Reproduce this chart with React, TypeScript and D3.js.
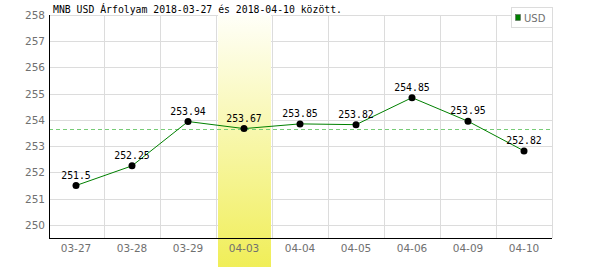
import React from "react";
import * as d3 from "d3";

const categories = ["03-27", "03-28", "03-29", "04-03", "04-04", "04-05", "04-06", "04-09", "04-10"];
const values = [251.5, 252.25, 253.94, 253.67, 253.85, 253.82, 254.85, 253.95, 252.82];
const valueLabels = ["251.5", "252.25", "253.94", "253.67", "253.85", "253.82", "254.85", "253.95", "252.82"];
const yTicks = [250, 251, 252, 253, 254, 255, 256, 257, 258];
const highlightCategory = "04-03";
const highlightValue = 253.67;
const title = "MNB USD Árfolyam 2018-03-27 és 2018-04-10 között.";
const seriesName = "USD";

const W = 600;
const H = 270;
const left = 49;
const right = 553;
const top = 15;
const bottom = 238;

export default function App() {
  const x = d3.scaleBand<string>().domain(categories).range([left, right]).padding(0);
  const y = d3.scaleLinear().domain([249.5, 258]).range([bottom, top]);
  const cx = (c: string) => (x(c) as number) + x.bandwidth() / 2 - 1;
  const line = d3
    .line<number>()
    .x((_, i) => cx(categories[i]))
    .y((d) => y(d));
  const hx = x(highlightCategory) as number;
  const mono = "'DejaVu Sans Mono', monospace";
  const sans = "'DejaVu Sans', sans-serif";

  return (
    <svg
      width={W}
      height={H}
      style={{ position: "absolute", left: 0, top: 0, background: "#fff" }}
    >
      <defs>
        <linearGradient id="hl" x1="0" y1="0" x2="0" y2="1">
          <stop offset="0%" stopColor="#fffff8" />
          <stop offset="100%" stopColor="#f0ee58" />
        </linearGradient>
      </defs>
      {yTicks.map((t) => (
        <line key={"gy" + t} x1={left} x2={right - 1} y1={Math.round(y(t)) + 0.5} y2={Math.round(y(t)) + 0.5} stroke="#dcdcdc" />
      ))}
      {categories.map((c) => {
        const xx = Math.round((x(c) as number) + x.bandwidth()) - 0.5;
        return <line key={"gx" + c} x1={xx} x2={xx} y1={top} y2={bottom} stroke="#dcdcdc" />;
      })}
      <rect x={hx + 1} y={top} width={x.bandwidth() - 3} height={267 - top} fill="url(#hl)" />
      <line
        x1={left}
        x2={right - 1}
        y1={Math.round(y(highlightValue)) + 0.5}
        y2={Math.round(y(highlightValue)) + 0.5}
        stroke="#77cc77"
        strokeDasharray="4,3"
        shapeRendering="crispEdges"
      />
      <line x1={left + 0.5} x2={left + 0.5} y1={top} y2={bottom + 0.5} stroke="#000" />
      <line x1={left} x2={right - 1} y1={bottom + 0.5} y2={bottom + 0.5} stroke="#000" />
      {yTicks.map((t) => (
        <text key={"yl" + t} x={45} y={y(t) + 4} textAnchor="end" fontFamily={sans} fontSize={10.5} fill="#707070">
          {t}
        </text>
      ))}
      {categories.map((c) => (
        <text key={"xl" + c} x={cx(c)} y={252} textAnchor="middle" fontFamily={sans} fontSize={10.5} fill="#707070">
          {c}
        </text>
      ))}
      <path d={line(values) || ""} fill="none" stroke="#008000" strokeWidth={1} />
      {values.map((v, i) => (
        <circle key={"p" + i} cx={cx(categories[i])} cy={y(v)} r={3.5} fill="#000" />
      ))}
      {values.map((v, i) => (
        <text key={"vl" + i} x={cx(categories[i])} y={y(v) - 7} textAnchor="middle" fontFamily={mono} fontSize={9.8} fill="#000">
          {valueLabels[i]}
        </text>
      ))}
      <text x={53} y={13} fontFamily={mono} fontSize={9.8} fill="#000">
        {title}
      </text>
      <rect x={511.5} y={7.5} width={41} height={20} fill="#fff" stroke="#dcdcdc" />
      <rect x={515.5} y={14.5} width={5} height={6} fill="#008000" stroke="#555" strokeWidth={0.5} />
      <text x={524} y={21.5} fontFamily={sans} fontSize={10} fill="#707070">
        {seriesName}
      </text>
    </svg>
  );
}
